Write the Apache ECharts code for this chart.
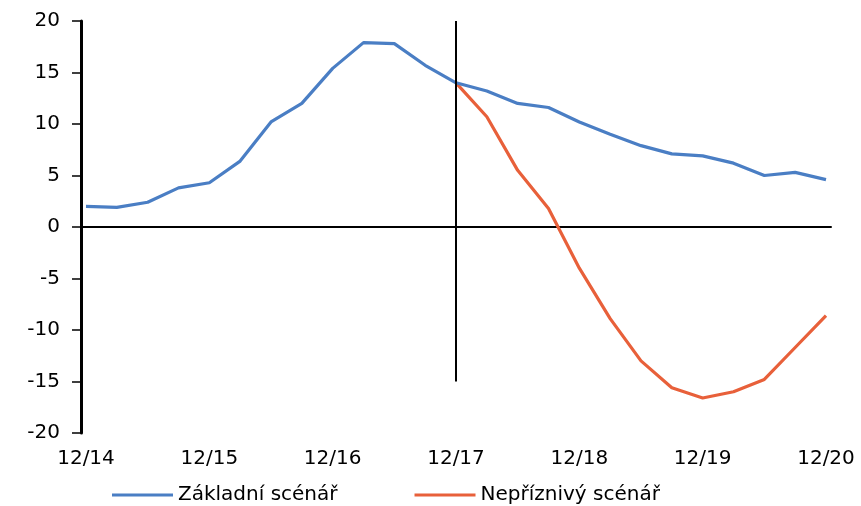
<!DOCTYPE html>
<html>
<head>
<meta charset="utf-8">
<script src="https://cdn.jsdelivr.net/npm/echarts@6/dist/echarts.min.js"></script>
<style>
  html, body { margin: 0; padding: 0; background: #fff; }
  #chart { width: 861px; height: 506px; }
</style>
</head>
<body>
<div id="chart"></div>
<script>
// quarterly categories, only every 4th one (December) is labelled
var categories = ['12/14', '03/15', '06/15', '09/15', '12/15', '03/16', '06/16', '09/16',
                  '12/16', '03/17', '06/17', '09/17', '12/17', '03/18', '06/18', '09/18',
                  '12/18', '03/19', '06/19', '09/19', '12/19', '03/20', '06/20', '09/20', '12/20'];

var zakladni = [2.0, 1.9, 2.4, 3.8, 4.3, 6.4, 10.2, 12.0, 15.4, 17.9, 17.8, 15.7, 14.0,
                13.2, 12.0, 11.6, 10.2, 9.0, 7.9, 7.1, 6.9, 6.2, 5.0, 5.3, 4.6];

var nepriznivy = [null, null, null, null, null, null, null, null, null, null, null, null, 14.0,
                  10.7, 5.5, 1.8, -4.0, -8.9, -13.0, -15.6, -16.6, -16.0, -14.8, -11.7, -8.6];

var yTicks = { min: -20, max: 20, step: 5 };

// vertical divider at the start of the forecast
var dividerAt = '12/17';
var dividerFrom = 20;
var dividerTo = -15;

var font = 'DejaVu Sans';
var chart = echarts.init(document.getElementById('chart'));

var option = {
    animation: false,
    grid: [
        // data grid
        { left: 86, right: 35, top: 21, bottom: 73 },
        // axis grid (a bit wider, like the Excel plot area)
        { left: 81, right: 30, top: 21, bottom: 73 }
    ],
    legend: {
        left: 107,
        top: 480,
        icon: 'rect',
        itemWidth: 61,
        itemHeight: 3,
        itemGap: 77,
        textStyle: { fontFamily: font, fontSize: 20, color: '#000' },
        data: ['Základní scénář', 'Nepříznivý scénář']
    },
    xAxis: [
        {
            type: 'category',
            gridIndex: 0,
            data: categories,
            boundaryGap: false,
            axisLine: { show: false, onZero: false },
            axisTick: { show: false },
            axisLabel: { interval: 3, margin: 16, fontFamily: font, fontSize: 20, color: '#000' },
            splitLine: { show: false }
        },
        {
            type: 'value',
            gridIndex: 1,
            min: 0,
            max: 1,
            axisLine: { show: true, onZero: true, lineStyle: { color: '#000', width: 2 } },
            axisTick: { show: false },
            axisLabel: { show: false },
            splitLine: { show: false }
        }
    ],
    yAxis: [
        {
            type: 'value',
            gridIndex: 0,
            min: yTicks.min,
            max: yTicks.max,
            interval: yTicks.step,
            show: false
        },
        {
            type: 'value',
            gridIndex: 1,
            min: yTicks.min,
            max: yTicks.max,
            interval: yTicks.step,
            axisLine: { show: true, lineStyle: { color: '#000', width: 3 } },
            axisTick: { show: true, length: 9, lineStyle: { color: '#000', width: 1.5 } },
            axisLabel: { margin: 21, fontFamily: font, fontSize: 20, color: '#000' },
            splitLine: { show: false }
        }
    ],
    series: [
        {
            name: 'Základní scénář',
            type: 'line',
            xAxisIndex: 0,
            yAxisIndex: 0,
            data: zakladni,
            symbol: 'none',
            color: '#4A7EC4',
            lineStyle: { width: 3.2, color: '#4A7EC4' },
            z: 3
        },
        {
            name: 'Nepříznivý scénář',
            type: 'line',
            xAxisIndex: 0,
            yAxisIndex: 0,
            data: nepriznivy,
            symbol: 'none',
            color: '#E8603A',
            lineStyle: { width: 3.2, color: '#E8603A' },
            z: 2,
            markLine: {
                silent: true,
                symbol: ['none', 'none'],
                label: { show: false },
                lineStyle: { color: '#000', width: 2, type: 'solid' },
                data: [[
                    { coord: [dividerAt, dividerFrom] },
                    { coord: [dividerAt, dividerTo] }
                ]]
            }
        }
    ]
};

chart.setOption(option);
</script>
</body>
</html>
